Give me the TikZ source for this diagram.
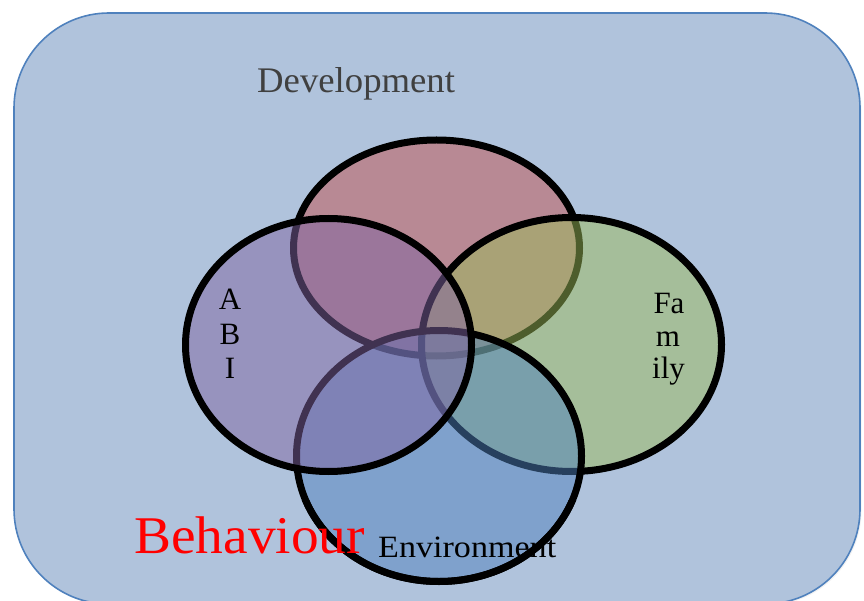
\documentclass[tikz,border=0pt]{standalone}
\usepackage{graphicx}
\usepackage{fontspec}
\setmainfont{Liberation Serif}
\usetikzlibrary{shapes.geometric}

\definecolor{panelfill}{RGB}{176,195,220}
\definecolor{paneledge}{RGB}{79,129,189}
\definecolor{devred}{RGB}{192,80,77}
\definecolor{abipurple}{RGB}{128,100,162}
\definecolor{famgreen}{RGB}{155,187,89}
\definecolor{envblue}{RGB}{79,129,189}
\definecolor{devtext}{RGB}{64,64,64}

\begin{document}
\begin{tikzpicture}[x=1pt,y=-1pt,
  venn/.style={ellipse, draw=black, line width=7pt, fill opacity=0.5, inner sep=0pt},
  lbl/.style={inner sep=0pt, anchor=base},
  lblw/.style={inner sep=0pt, anchor=base west}]
\useasboundingbox (0,0) rectangle (864,601);
\begin{scope}
\clip (0,0) rectangle (864,601);

% faint shadow and rounded panel
\node[rectangle, rounded corners=95pt, fill=black, fill opacity=0.05,
      minimum width=846pt, minimum height=591pt, inner sep=0pt]
      (shadow) at (438.5,310) {};
\node[rectangle, rounded corners=95pt, draw=paneledge, line width=1.6pt,
      fill=panelfill, minimum width=846pt, minimum height=591pt, inner sep=0pt]
      (panel) at (437,308.5) {};

% the four overlapping sets, bottom layer first
\node[venn, fill=devred,    minimum width=286pt, minimum height=216pt] (dev) at (436.5,248) {};
\node[venn, fill=famgreen,  minimum width=300pt, minimum height=254pt] (fam) at (571.5,344.5) {};
\node[venn, fill=envblue,   minimum width=285pt, minimum height=251pt] (env) at (439,456) {};
\node[venn, fill=abipurple, minimum width=286pt, minimum height=253pt] (abi) at (328.5,345) {};

% labels
\node[lblw, font=\fontsize{36}{36}\selectfont, text=devtext] (devlbl) at (257,93)
  {\scalebox{1.02}[1]{Development}};

\node[lbl, font=\fontsize{31}{31}\selectfont] (abiA) at (230,310) {A};
\node[lbl, font=\fontsize{31}{31}\selectfont] (abiB) at (230,344) {B};
\node[lbl, font=\fontsize{31}{31}\selectfont] (abiI) at (230,378) {I};

\node[lbl, font=\fontsize{31}{31}\selectfont] (famA) at (669,313) {Fa};
\node[lbl, font=\fontsize{31}{31}\selectfont] (famB) at (668,346) {m};
\node[lbl, font=\fontsize{31}{31}\selectfont] (famC) at (668.5,378) {ily};

\node[lblw, font=\fontsize{31}{31}\selectfont] (envlbl) at (378,557)
  {\scalebox{1.1}[1]{Environment}};

% lower rim of the environment set passes over its label
\begin{scope}
\clip (0,500) rectangle (864,601);
\draw[line width=7pt] (env.center) ellipse [x radius=142.5pt, y radius=125.5pt];
\end{scope}

\node[lblw, font=\fontsize{53}{53}\selectfont, text=red] (behlbl) at (134,553)
  {\scalebox{1.045}[1]{Behaviour}};
\end{scope}
\end{tikzpicture}
\end{document}
